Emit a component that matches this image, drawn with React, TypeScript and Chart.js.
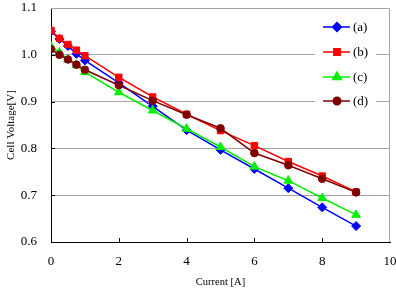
import React, { useEffect, useRef } from 'react';
import { Chart, registerables } from 'chart.js';
import { drawPoint } from 'chart.js/helpers';

Chart.register(...registerables);

const currents = [0, 0.25, 0.5, 0.75, 1, 2, 3, 4, 5, 6, 7, 8, 9];
const seriesA = [1.05, 1.034, 1.019, 1.002, 0.988, 0.94, 0.89, 0.839, 0.797, 0.756, 0.715, 0.674, 0.634];
const seriesB = [1.052, 1.035, 1.022, 1.01, 0.998, 0.952, 0.91, 0.873, 0.838, 0.806, 0.772, 0.741, 0.707];
const seriesC = [1.018, 1.005, 0.99, 0.978, 0.963, 0.92, 0.881, 0.842, 0.803, 0.761, 0.731, 0.694, 0.658];
const seriesD = [1.012, 1.0, 0.99, 0.979, 0.968, 0.935, 0.902, 0.872, 0.843, 0.79, 0.764, 0.735, 0.706];
const seriesLabels = ['(a)', '(b)', '(c)', '(d)'];
const xTitle = 'Current [A]';
const yTitle = 'Cell Voltage[V]';

const FONT = '"Liberation Serif", "Times New Roman", serif';
const GRID = '#a6a6a6';

const styles = [
  { color: '#0000ff', pointStyle: 'rectRot', radius: 4.5 },
  { color: '#ff0000', pointStyle: 'rect', radius: 4.5 },
  { color: '#00f000', pointStyle: 'triangle', radius: 5 },
  { color: '#800000', pointStyle: 'circle', radius: 3.8 },
];

const frameAndTicks = {
  id: 'frameAndTicks',
  beforeDatasetsDraw(chart: any) {
    const { ctx, chartArea } = chart;
    ctx.save();
    ctx.strokeStyle = GRID;
    ctx.lineWidth = 1;
    const t = Math.round(chartArea.top) + 0.5;
    const r = Math.round(chartArea.right) - 0.5;
    ctx.beginPath();
    ctx.moveTo(chartArea.left, t);
    ctx.lineTo(r, t);
    ctx.lineTo(r, chartArea.bottom);
    ctx.stroke();
    ctx.restore();
  },
  afterDatasetsDraw(chart: any) {
    const { ctx, chartArea, scales } = chart;
    ctx.save();
    ctx.strokeStyle = '#000';
    ctx.lineWidth = 1;
    scales.x.ticks.forEach((tk: any) => {
      if (tk.value <= 0 || tk.value >= 10) return;
      const px = Math.round(scales.x.getPixelForValue(tk.value)) + 0.5;
      ctx.beginPath();
      ctx.moveTo(px, chartArea.bottom);
      ctx.lineTo(px, chartArea.bottom - 4);
      ctx.stroke();
    });
    scales.y.ticks.forEach((tk: any) => {
      if (tk.value <= 0.601 || tk.value >= 1.099) return;
      const py = Math.round(scales.y.getPixelForValue(tk.value)) + 0.5;
      ctx.beginPath();
      ctx.moveTo(chartArea.left, py);
      ctx.lineTo(chartArea.left + 4, py);
      ctx.stroke();
    });
    ctx.restore();
  },
};

const boxLegend = {
  id: 'boxLegend',
  afterDatasetsDraw(chart: any) {
    const { ctx } = chart;
    ctx.save();
    ctx.fillStyle = '#ffffff';
    ctx.fillRect(315, 12, 61, 100);
    const ys = [27, 52, 77, 101];
    styles.forEach((s, i) => {
      const y = ys[i];
      ctx.strokeStyle = s.color;
      ctx.lineWidth = 1.5;
      ctx.beginPath();
      ctx.moveTo(323, y);
      ctx.lineTo(350, y);
      ctx.stroke();
      ctx.fillStyle = s.color;
      drawPoint(ctx, { pointStyle: s.pointStyle, radius: s.radius, borderWidth: 1, rotation: 0 } as any, 337, y);
      ctx.fill();
      ctx.fillStyle = '#000';
      ctx.font = `13px ${FONT}`;
      ctx.textBaseline = 'middle';
      ctx.textAlign = 'left';
      ctx.fillText(seriesLabels[i], 353, y + 1);
    });
    ctx.restore();
  },
};

const zeroPad = (s: any) => {
  s.paddingTop = 0;
  s.paddingBottom = 0;
  s.paddingLeft = 0;
  s.paddingRight = 0;
};

export default function App() {
  const ref = useRef<HTMLCanvasElement | null>(null);
  useEffect(() => {
    if (!ref.current) return;
    const all = [seriesA, seriesB, seriesC, seriesD];
    const chart = new Chart(ref.current, {
      type: 'line',
      data: {
        datasets: all.map((vals, i) => ({
          label: seriesLabels[i],
          data: currents.map((c, j) => ({ x: c, y: vals[j] })),
          borderColor: styles[i].color,
          backgroundColor: styles[i].color,
          pointBackgroundColor: styles[i].color,
          pointBorderColor: styles[i].color,
          pointStyle: styles[i].pointStyle as any,
          pointRadius: styles[i].radius,
          pointBorderWidth: 1,
          borderWidth: 1.5,
          tension: 0,
          order: 4 - i,
        })),
      },
      options: {
        animation: false,
        responsive: true,
        maintainAspectRatio: false,
        layout: { padding: { left: 0, top: 8, right: 5, bottom: 0 } },
        plugins: { legend: { display: false }, tooltip: { enabled: false } },
        scales: {
          x: {
            type: 'linear',
            min: 0,
            max: 10,
            afterFit: (s: any) => { s.height = 48; zeroPad(s); },
            ticks: { stepSize: 2, color: '#000', font: { family: FONT, size: 13 }, padding: 12, maxRotation: 0 },
            grid: { display: false, drawTicks: false },
            border: { color: '#000', width: 1 },
            title: { display: true, text: xTitle, color: '#000', font: { family: FONT, size: 10.5 }, padding: { top: 0, bottom: 1 } },
          },
          y: {
            type: 'linear',
            min: 0.6,
            max: 1.1,
            afterFit: (s: any) => { s.width = 51; zeroPad(s); },
            ticks: {
              stepSize: 0.1,
              color: '#000',
              font: { family: FONT, size: 13 },
              padding: 14,
              callback: (v: any) => Number(v).toFixed(1),
            },
            grid: {
              drawTicks: false,
              color: (c: any) => (c.tick && c.tick.value > 0.61 && c.tick.value < 1.09 ? GRID : 'rgba(0,0,0,0)'),
            },
            border: { color: '#000', width: 1 },
            title: { display: true, text: yTitle, color: '#000', font: { family: FONT, size: 11 }, padding: { top: 5, bottom: 0 } },
          },
        },
      },
      plugins: [frameAndTicks, boxLegend],
    });
    return () => chart.destroy();
  }, []);
  return (
    <div style={{ position: 'fixed', left: 0, top: 0, width: 396, height: 290, background: '#fff' }}>
      <canvas ref={ref} />
    </div>
  );
}
